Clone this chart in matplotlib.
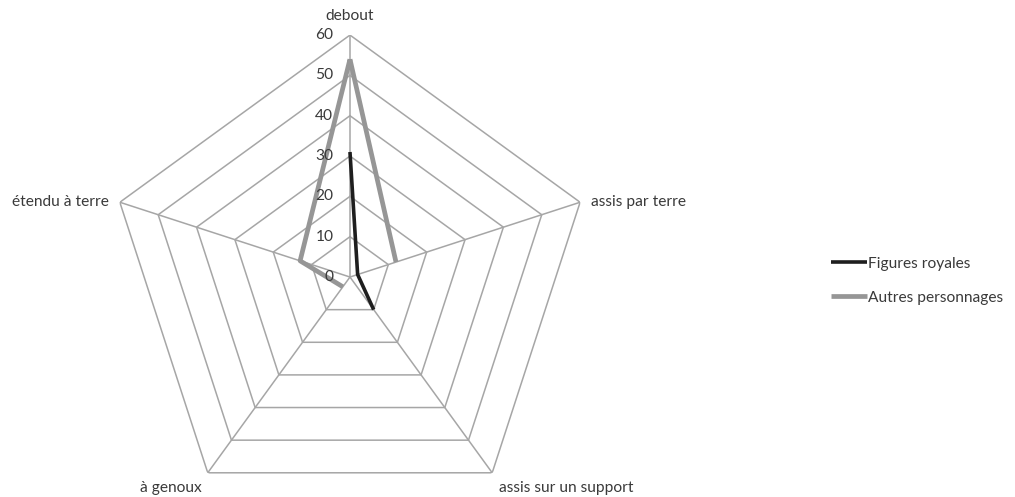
import numpy as np
import matplotlib
matplotlib.use("Agg")
from matplotlib import pyplot as plt

# axes of the radar, clockwise from top
categories = ["debout", "assis par terre", "assis sur un support", "à genoux", "étendu à terre"]
# NaN = no value (gap in the line, as in the original)
royales = [31, 2, 10, np.nan, np.nan]
autres = [54, 12, np.nan, 3, 13]
ticks = [0, 10, 20, 30, 40, 50, 60]
series_names = ["Figures royales", "Autres personnages"]

plt.rcParams['font.family'] = ['Lato', 'DejaVu Sans']
fs = 11.2
txt_col = "#3a3a3a"

fig = plt.figure(figsize=(10.15, 4.97), dpi=100)
ax = fig.add_axes([0.1064, -0.0443, 0.4768, 0.9738], projection="polar")
ax.set_theta_zero_location("N")
ax.set_theta_direction(-1)
ax.set_ylim(0, 60)
ax.axis("off")

n = len(categories)
angles = np.arange(n) * 2 * np.pi / n
closed = np.append(angles, angles[0])

grid_col = "#a6a6a6"
# pentagon rings
for t in ticks[1:]:
    ax.plot(closed, [t] * (n + 1), color=grid_col, lw=1.1, zorder=1)
# spokes
for a in angles:
    ax.plot([a, a], [0, ticks[-1]], color=grid_col, lw=1.1, zorder=1)

# series
ax.plot(closed, royales + royales[:1], color="#1e1e1e", lw=2.6, zorder=3,
        label=series_names[0], solid_capstyle="butt")
ax.plot(closed, autres + autres[:1], color="#969696", lw=3.4, zorder=2,
        label=series_names[1], solid_capstyle="butt")

# radial tick labels
for t in ticks:
    ax.annotate(str(t), xy=(0, t), xytext=(-12, 0), textcoords="offset points",
                ha="right", va="center", fontsize=fs, color=txt_col)

# category labels
offsets = [((0, 9), "center", "bottom"),
           ((8, 0), "left", "center"),
           ((5, -6), "left", "top"),
           ((-4, -6), "right", "top"),
           ((-8, 0), "right", "center")]
for a, lab, (off, ha, va) in zip(angles, categories, offsets):
    ax.annotate(lab, xy=(a, ticks[-1]), xytext=off, textcoords="offset points",
                ha=ha, va=va, fontsize=fs, color=txt_col)

fig.legend(loc="center left", bbox_to_anchor=(0.805, 0.435), frameon=False,
           fontsize=fs, handlelength=2.3, handletextpad=0.05, labelspacing=1.3,
           labelcolor=txt_col)

fig.savefig("out.png", dpi=100)
